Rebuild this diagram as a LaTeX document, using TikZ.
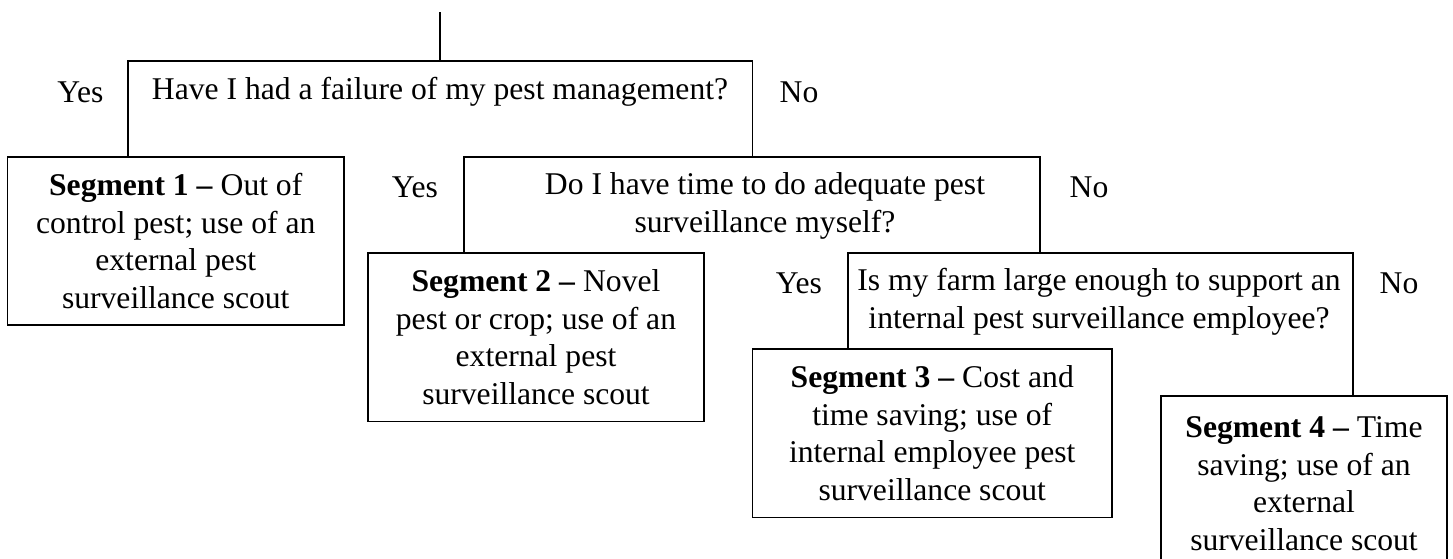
\documentclass[tikz,border=0pt]{standalone}
\usepackage{fontspec}
\setmainfont{Liberation Serif}
\tikzset{
    txt/.style={font=\fontsize{18}{21.4}\selectfont, align=center, inner sep=0pt},
    segbox/.style={txt, draw, minimum height=3.37cm}
}
\begin{document}
\begin{tikzpicture}[line width=0.9pt]
            \clip (0, 0) rectangle (29.06, 11.18);

            %%first question
            \coordinate (start) at (8.8, 10.93);
            \coordinate (q1l) at (2.56, 9.96);
            \coordinate (q1r) at (15.05, 9.96);
                \node[txt] (q1) at (8.8, 9.34){Have I had a failure of my pest management?};
                \node[txt] (yes1) at (1.61, 9.34){Yes};
                \node[txt] (no1) at (15.98, 9.34){No};
            \node[segbox, minimum width=6.73cm] (seg1) at (3.515, 6.36){\textbf{Segment 1 --} Out of\\control pest; use of an\\external pest\\surveillance scout};

            %%second question
            \coordinate (q2l) at (9.28, 8.04);
            \coordinate (q2r) at (20.8, 8.04);
                \node[txt] (q2) at (15.3, 7.06){Do I have time to do adequate pest\\surveillance myself?};
                \node[txt] (yes2) at (8.3, 7.44){Yes};
                \node[txt] (no2) at (21.78, 7.44){No};
            \node[segbox, minimum width=6.72cm] (seg2) at (10.72, 4.435){\textbf{Segment 2 --} Novel\\pest or crop; use of an\\external pest\\surveillance scout};

            %%third question
            \coordinate (q3l) at (16.96, 6.12);
            \coordinate (q3r) at (27.06, 6.12);
                \node[txt] (q3) at (21.98, 5.14){Is my farm large enough to support an\\internal pest surveillance employee?};
                \node[txt] (yes3) at (15.98, 5.52){Yes};
                \node[txt] (no3) at (27.98, 5.52){No};
            \node[segbox, minimum width=7.19cm] (seg3) at (18.645, 2.515){\textbf{Segment 3 --} Cost and\\time saving; use of\\internal employee pest\\surveillance scout};
            \node[segbox, minimum width=5.73cm, minimum height=3.5cm, anchor=north] (seg4) at (26.08, 3.27){\textbf{Segment 4 --} Time\\saving; use of an\\external\\surveillance scout};

            %%branches
            \draw (start) to (start |- q1l);
            \draw (q1l |- seg1.north) to (q1l) to (q1r) to (q1r |- q2l);
            \draw (q2l |- seg2.north) to (q2l) to (q2r) to (q2r |- q3l);
            \draw (q3l |- seg3.north) to (q3l) to (q3r) to (q3r |- seg4.north);

        \end{tikzpicture}
\end{document}
